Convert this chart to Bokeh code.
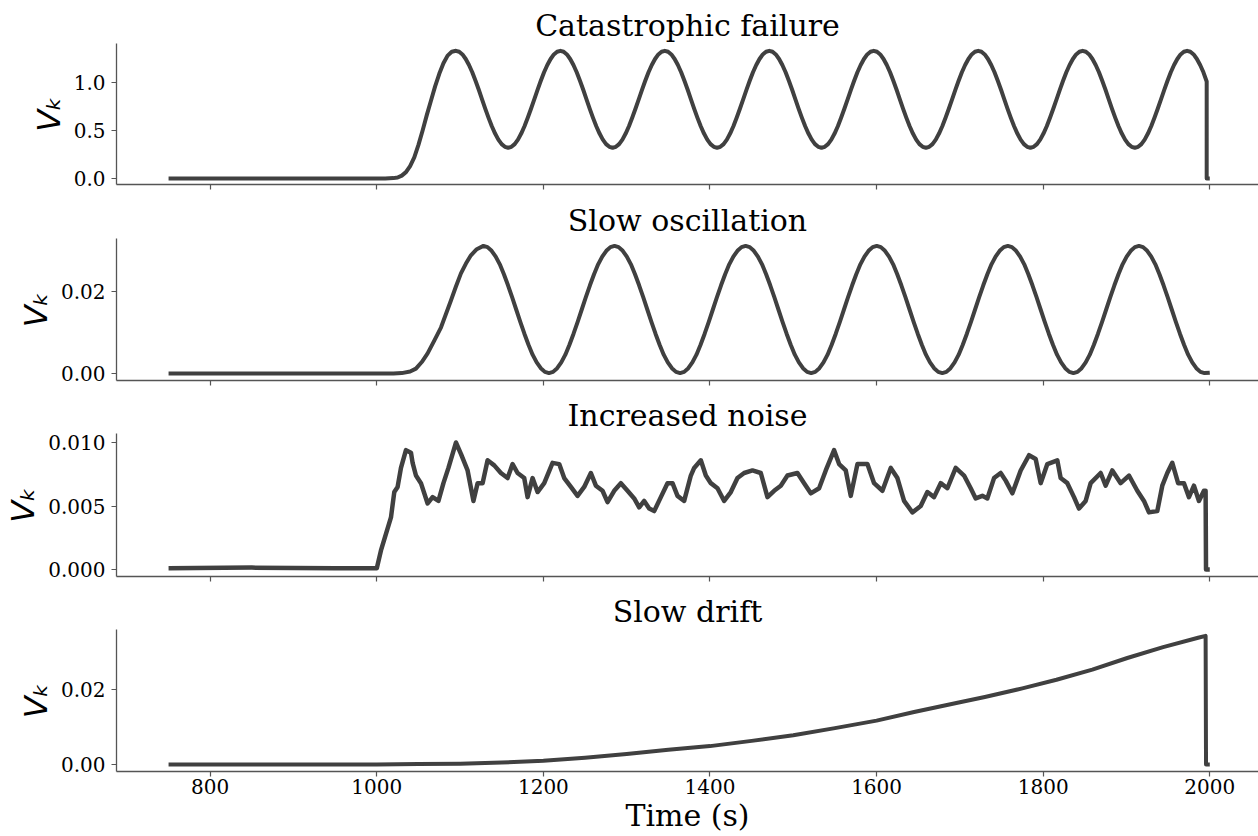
import numpy as np
from bokeh.plotting import figure
from bokeh.layouts import column
from bokeh.models import Title, FixedTicker, PrintfTickFormatter
from bokeh.embed import file_html
from bokeh.resources import INLINE

# ---------------- data ----------------
x_ticks = [800, 1000, 1200, 1400, 1600, 1800, 2000]
panel_titles = ["Catastrophic failure", "Slow oscillation", "Increased noise", "Slow drift"]
y_label = "V\u2096"
x_label = "Time (s)"

# Catastrophic failure
cat_rise_t = [750, 1000, 1010, 1020, 1025, 1030, 1035, 1040, 1045, 1050, 1055, 1060,
              1065, 1070, 1075, 1080, 1085, 1090]
cat_rise_v = [0.0, 0.0, 0.001, 0.004, 0.01, 0.03, 0.066, 0.13, 0.22, 0.35, 0.50, 0.66,
              0.81, 0.96, 1.09, 1.20, 1.28, 1.32]
cat_osc_t = [float(t) for t in np.linspace(1095, 1996.3, 231)]
cat_osc_v = [
    1.330, 1.320, 1.292, 1.245, 1.182, 1.106, 1.018, 0.924, 0.825, 0.726, 0.632, 0.544, 0.468, 0.405, 0.358, 0.330,
    0.320, 0.330, 0.358, 0.405, 0.468, 0.544, 0.632, 0.726, 0.825, 0.924, 1.018, 1.106, 1.182, 1.245, 1.292, 1.320,
    1.330, 1.320, 1.292, 1.245, 1.182, 1.106, 1.018, 0.924, 0.825, 0.726, 0.632, 0.544, 0.468, 0.405, 0.358, 0.330,
    0.320, 0.330, 0.358, 0.405, 0.468, 0.544, 0.632, 0.726, 0.825, 0.924, 1.018, 1.106, 1.182, 1.245, 1.292, 1.320,
    1.330, 1.320, 1.292, 1.245, 1.182, 1.106, 1.018, 0.924, 0.825, 0.726, 0.632, 0.544, 0.468, 0.405, 0.358, 0.330,
    0.320, 0.330, 0.358, 0.405, 0.468, 0.544, 0.632, 0.726, 0.825, 0.924, 1.018, 1.106, 1.182, 1.245, 1.292, 1.320,
    1.330, 1.320, 1.292, 1.245, 1.182, 1.106, 1.018, 0.924, 0.825, 0.726, 0.632, 0.544, 0.468, 0.405, 0.358, 0.330,
    0.320, 0.330, 0.358, 0.405, 0.468, 0.544, 0.632, 0.726, 0.825, 0.924, 1.018, 1.106, 1.182, 1.245, 1.292, 1.320,
    1.330, 1.320, 1.292, 1.245, 1.182, 1.106, 1.018, 0.924, 0.825, 0.726, 0.632, 0.544, 0.468, 0.405, 0.358, 0.330,
    0.320, 0.330, 0.358, 0.405, 0.468, 0.544, 0.632, 0.726, 0.825, 0.924, 1.018, 1.106, 1.182, 1.245, 1.292, 1.320,
    1.330, 1.320, 1.292, 1.245, 1.182, 1.106, 1.018, 0.924, 0.825, 0.726, 0.632, 0.544, 0.468, 0.405, 0.358, 0.330,
    0.320, 0.330, 0.358, 0.405, 0.468, 0.544, 0.632, 0.726, 0.825, 0.924, 1.018, 1.106, 1.182, 1.245, 1.292, 1.320,
    1.330, 1.320, 1.292, 1.245, 1.182, 1.106, 1.018, 0.924, 0.825, 0.726, 0.632, 0.544, 0.468, 0.405, 0.358, 0.330,
    0.320, 0.330, 0.358, 0.405, 0.468, 0.544, 0.632, 0.726, 0.825, 0.924, 1.018, 1.106, 1.182, 1.245, 1.292, 1.320,
    1.330, 1.320, 1.292, 1.245, 1.182, 1.106, 1.010,
]
cat_end_t = [1996.3, 2000]
cat_end_v = [0.0, 0.0]

# Slow oscillation
slow_rise_t = [750, 1000, 1020, 1030, 1040, 1047, 1054, 1061, 1069, 1077, 1083, 1089,
               1095, 1101, 1107, 1113, 1120]
slow_rise_v = [0.0, 0.0, 0.0, 0.0001, 0.0005, 0.0012, 0.0028, 0.0049, 0.0080, 0.0112, 0.0145, 0.0178,
               0.0212, 0.0244, 0.0268, 0.0288, 0.0303]
slow_osc_t = [float(t) for t in np.linspace(1128, 1993.7, 177)]
slow_osc_v = [
    0.0311, 0.0308, 0.0299, 0.0285, 0.0266, 0.0242, 0.0215, 0.0186, 0.0156, 0.0126, 0.0097, 0.0070, 0.0046, 0.0027, 0.0013, 0.0004,
    0.0001, 0.0004, 0.0013, 0.0027, 0.0046, 0.0070, 0.0097, 0.0126, 0.0156, 0.0186, 0.0215, 0.0242, 0.0266, 0.0285, 0.0299, 0.0308,
    0.0311, 0.0308, 0.0299, 0.0285, 0.0266, 0.0242, 0.0215, 0.0186, 0.0156, 0.0126, 0.0097, 0.0070, 0.0046, 0.0027, 0.0013, 0.0004,
    0.0001, 0.0004, 0.0013, 0.0027, 0.0046, 0.0070, 0.0097, 0.0126, 0.0156, 0.0186, 0.0215, 0.0242, 0.0266, 0.0285, 0.0299, 0.0308,
    0.0311, 0.0308, 0.0299, 0.0285, 0.0266, 0.0242, 0.0215, 0.0186, 0.0156, 0.0126, 0.0097, 0.0070, 0.0046, 0.0027, 0.0013, 0.0004,
    0.0001, 0.0004, 0.0013, 0.0027, 0.0046, 0.0070, 0.0097, 0.0126, 0.0156, 0.0186, 0.0215, 0.0242, 0.0266, 0.0285, 0.0299, 0.0308,
    0.0311, 0.0308, 0.0299, 0.0285, 0.0266, 0.0242, 0.0215, 0.0186, 0.0156, 0.0126, 0.0097, 0.0070, 0.0046, 0.0027, 0.0013, 0.0004,
    0.0001, 0.0004, 0.0013, 0.0027, 0.0046, 0.0070, 0.0097, 0.0126, 0.0156, 0.0186, 0.0215, 0.0242, 0.0266, 0.0285, 0.0299, 0.0308,
    0.0311, 0.0308, 0.0299, 0.0285, 0.0266, 0.0242, 0.0215, 0.0186, 0.0156, 0.0126, 0.0097, 0.0070, 0.0046, 0.0027, 0.0013, 0.0004,
    0.0001, 0.0004, 0.0013, 0.0027, 0.0046, 0.0070, 0.0097, 0.0126, 0.0156, 0.0186, 0.0215, 0.0242, 0.0266, 0.0285, 0.0299, 0.0308,
    0.0311, 0.0308, 0.0299, 0.0285, 0.0266, 0.0242, 0.0215, 0.0186, 0.0156, 0.0126, 0.0097, 0.0070, 0.0046, 0.0027, 0.0013, 0.0004,
    0.0001,
]
slow_end_t = [2000]
slow_end_v = [0.0002]

# Increased noise
noise_t = [750, 850, 950, 1000, 1005, 1011, 1017, 1021, 1025, 1029, 1035, 1041, 1043, 1047, 1053, 1061,
           1067, 1074, 1080, 1086, 1095, 1101, 1109, 1116, 1121, 1127, 1133, 1141, 1149, 1157, 1163,
           1169, 1177, 1181, 1187, 1193, 1201, 1211, 1219, 1225, 1233, 1241, 1249, 1257, 1263, 1271,
           1277, 1285, 1293, 1301, 1309, 1315, 1321, 1327, 1333, 1341, 1349, 1355, 1361, 1369, 1377,
           1381, 1389, 1395, 1401, 1409, 1417, 1425, 1433, 1441, 1451, 1461, 1469, 1477, 1485, 1493,
           1505, 1513, 1521, 1531, 1539, 1549, 1555, 1563, 1569, 1577, 1589, 1597, 1607, 1617, 1625,
           1633, 1643, 1653, 1661, 1669, 1677, 1685, 1695, 1705, 1713, 1719, 1727, 1733, 1741, 1749,
           1755, 1763, 1773, 1783, 1791, 1797, 1805, 1817, 1821, 1829, 1837, 1843, 1851, 1857, 1869,
           1875, 1883, 1893, 1903, 1913, 1921, 1927, 1937, 1943, 1949, 1955, 1962, 1969, 1975, 1981,
           1987, 1993, 1995, 1995.5, 2000]
noise_v = [0.0001, 0.00015, 0.0001, 0.0001, 0.0015, 0.0028, 0.0041, 0.0061, 0.0065, 0.0080, 0.0094, 0.0092,
           0.0084, 0.0074, 0.0068, 0.0052, 0.0057, 0.0054, 0.0068, 0.0080, 0.0100, 0.0091, 0.0078, 0.0054,
           0.0068, 0.0068, 0.0086, 0.0082, 0.0076, 0.0072, 0.0083, 0.0076, 0.0072, 0.0057, 0.0072, 0.0061,
           0.0068, 0.0084, 0.0083, 0.0072, 0.0065, 0.0058, 0.0065, 0.0076, 0.0066, 0.0062, 0.0053, 0.0062,
           0.0068, 0.0062, 0.0056, 0.0049, 0.0054, 0.0048, 0.0046, 0.0057, 0.0068, 0.0068, 0.0058, 0.0054,
           0.0074, 0.0080, 0.0086, 0.0074, 0.0068, 0.0064, 0.0054, 0.0061, 0.0072, 0.0076, 0.0078, 0.0076,
           0.0057, 0.0062, 0.0066, 0.0074, 0.0076, 0.0068, 0.0060, 0.0064, 0.0078, 0.0094, 0.0083, 0.0078,
           0.0058, 0.0083, 0.0083, 0.0068, 0.0062, 0.0080, 0.0072, 0.0054, 0.0045, 0.0050, 0.0061, 0.0057,
           0.0068, 0.0064, 0.0080, 0.0074, 0.0064, 0.0056, 0.0058, 0.0056, 0.0072, 0.0076, 0.0070, 0.0060,
           0.0078, 0.0090, 0.0087, 0.0068, 0.0083, 0.0086, 0.0072, 0.0068, 0.0057, 0.0048, 0.0054, 0.0068,
           0.0076, 0.0066, 0.0078, 0.0068, 0.0074, 0.0062, 0.0054, 0.0045, 0.0046, 0.0066, 0.0076, 0.0084,
           0.0068, 0.0068, 0.0057, 0.0066, 0.0054, 0.0062, 0.0062, 0.0, 0.0]

# Slow drift
drift_t = [750, 1000, 1050, 1100, 1150, 1200, 1250, 1300, 1350, 1400, 1450, 1500, 1550, 1600,
           1645, 1700, 1730, 1775, 1816, 1859, 1901, 1944, 1986, 1995, 1995.5, 2000]
drift_v = [0.0, 0.0, 0.0001, 0.0002, 0.0005, 0.0010, 0.0018, 0.0028, 0.0039, 0.0049, 0.0063, 0.0078,
           0.0097, 0.0117, 0.0140, 0.0166, 0.0180, 0.0203, 0.0226, 0.0253, 0.0284, 0.0313, 0.0338,
           0.0343, 0.0, 0.0]

# ---------------- styling ----------------
LINE = "#404040"
SPINE = "#555555"
SERIF = "DejaVu Serif"


def panel(title, h, top, bottom, yr, yticks, yfmt, show_x, t, v, lw=4):
    p = figure(width=1258, height=h, x_range=(687.5, 2058.5), y_range=yr,
               output_backend="svg", toolbar_location=None, title=None,
               min_border_left=116, min_border_right=0,
               min_border_top=top, min_border_bottom=bottom)
    p.outline_line_color = None
    p.xgrid.visible = False
    p.ygrid.visible = False
    p.background_fill_color = "white"
    p.border_fill_color = "white"
    p.line(t, v, line_color=LINE, line_width=lw, line_join="round")

    for ax in (p.xaxis[0], p.yaxis[0]):
        ax.axis_line_color = SPINE
        ax.axis_line_width = 1.3
        ax.major_tick_line_color = SPINE
        ax.major_tick_line_width = 1.2
        ax.major_tick_out = 5
        ax.major_tick_in = 0
        ax.minor_tick_line_color = None
        ax.major_label_text_font = SERIF
        ax.major_label_text_font_size = "20px"
        ax.major_label_text_color = "black"
    p.xaxis.ticker = FixedTicker(ticks=x_ticks)
    p.xaxis.major_label_standoff = 2
    if not show_x:
        p.xaxis.major_label_text_color = None
        p.xaxis.major_label_text_font_size = "0px"
    else:
        p.xaxis.axis_label = x_label
        p.xaxis.axis_label_text_font = SERIF
        p.xaxis.axis_label_text_font_size = "30px"
        p.xaxis.axis_label_text_font_style = "normal"
        p.xaxis.axis_label_text_color = "black"
        p.xaxis.axis_label_standoff = 1
    p.yaxis.ticker = FixedTicker(ticks=yticks)
    p.yaxis.formatter = PrintfTickFormatter(format=yfmt)
    p.yaxis.major_label_standoff = 6
    p.yaxis.axis_label = y_label
    p.yaxis.axis_label_text_font = "DejaVu Sans"
    p.yaxis.axis_label_text_font_style = "italic"
    p.yaxis.axis_label_text_font_size = "32px"
    p.yaxis.axis_label_text_color = "black"
    p.yaxis.axis_label_standoff = 3

    p.add_layout(Title(text=title, align="center", text_font=SERIF, text_font_size="30px",
                       text_font_style="normal", text_color="black", standoff=2), "above")
    return p


p1 = panel(panel_titles[0], 195, 43, 11, (-0.0625, 1.406), [0.0, 0.5, 1.0], "%.1f", False,
           cat_rise_t + cat_osc_t + cat_end_t, cat_rise_v + cat_osc_v + cat_end_v)
p2 = panel(panel_titles[1], 195, 43, 10, (-0.0017, 0.0329), [0.0, 0.02], "%.2f", False,
           slow_rise_t + slow_osc_t + slow_end_t, slow_rise_v + slow_osc_v + slow_end_v)
p3 = panel(panel_titles[2], 195, 43, 9, (-0.00055, 0.01071), [0.0, 0.005, 0.010], "%.3f", False,
           noise_t, noise_v, lw=4.5)
p4 = panel(panel_titles[3], 251, 44, 65, (-0.00187, 0.036), [0.0, 0.02], "%.2f", True,
           drift_t, drift_v)

layout = column(p1, p2, p3, p4, spacing=0)
open("out.html", "w").write(file_html(layout, INLINE))
